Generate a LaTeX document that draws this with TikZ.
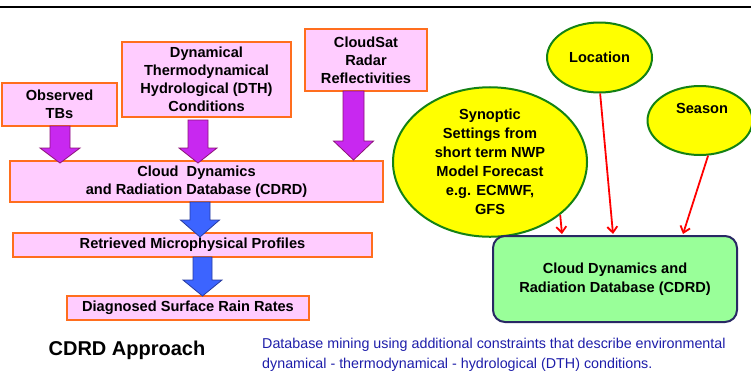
\documentclass[tikz,border=0pt]{standalone}
\usepackage{fontspec}
\setmainfont{Liberation Sans}
\usetikzlibrary{calc,shapes.geometric,arrows.meta}
\definecolor{pinkfill}{RGB}{255,204,255}
\definecolor{orangeline}{RGB}{255,110,30}
\definecolor{purplefill}{RGB}{200,40,240}
\definecolor{purpleline}{RGB}{140,20,120}
\definecolor{bluefill}{RGB}{60,100,255}
\definecolor{blueline}{RGB}{40,60,160}
\definecolor{ellfill}{RGB}{255,255,0}
\definecolor{ellline}{RGB}{20,130,20}
\definecolor{greenfill}{RGB}{153,255,153}
\definecolor{navyline}{RGB}{40,40,100}
\definecolor{txtblue}{RGB}{30,30,170}
\tikzset{
  pbox/.style={draw=orangeline, line width=1.8pt, fill=pinkfill, inner sep=0pt, font=\bfseries\fontsize{14.6}{18}\selectfont, align=center},
  ell/.style={ellipse, draw=ellline, line width=2pt, fill=ellfill, inner sep=0pt, font=\bfseries\fontsize{14.6}{19}\selectfont, align=center},
  purplearrow/.style={fill=purplefill, draw=purpleline, line width=0.8pt},
  bluearrow/.style={fill=bluefill, draw=blueline, line width=0.8pt},
  redarrow/.style={draw=red, line width=1.8pt, -{Straight Barb[length=6pt,width=10pt]}},
}
% block arrow: #1 style, #2 center x, #3 top y, #4 head start y, #5 tip y, #6 shaft half width, #7 head half width
\newcommand{\blockarr}[7]{%
  \draw[#1] (#2-#6,#3) -- (#2+#6,#3) -- (#2+#6,#4) -- (#2+#7,#4) -- (#2,#5) -- (#2-#7,#4) -- (#2-#6,#4) -- cycle;}
\begin{document}
\begin{tikzpicture}[x=1pt,y=-1pt]
\useasboundingbox (0,0) rectangle (751,373);
\fill[white] (0,0) rectangle (751,373);
\coordinate (tl) at (0,7);
\coordinate (tr) at (751,7);
\draw[line width=1.5pt] (tl) -- (tr);

% left boxes
\node[pbox, minimum width=115pt, minimum height=43pt] (tbs) at (59.5,104.5) {Observed\\TBs};
\node[pbox, minimum width=169pt, minimum height=75pt] (dth) at (206.5,79.5) {Dynamical\\Thermodynamical\\Hydrological (DTH)\\Conditions};
\node[pbox, minimum width=122pt, minimum height=62pt] (sat) at (366,60) {CloudSat\\Radar\\Reflectivities};
\node[pbox, minimum width=373pt, minimum height=41pt] (cdrd) at (196.5,181.5) {Cloud\ \ Dynamics\\and Radiation Database (CDRD)};
\node[pbox, minimum width=359pt, minimum height=24pt] (ret) at (192.5,245) {Retrieved Microphysical Profiles};
\node[pbox, minimum width=242pt, minimum height=24pt] (diag) at (188,308) {Diagnosed Surface Rain Rates};

% purple arrows
\blockarr{purplearrow}{60}{126}{148}{163}{10}{20}
\blockarr{purplearrow}{198}{120}{148}{163}{10}{19}
\blockarr{purplearrow}{353.5}{91}{141}{160}{10.5}{20}
% blue arrows
\blockarr{bluearrow}{200}{202}{220}{237}{10}{19.5}
\blockarr{bluearrow}{202.5}{257}{280}{296}{9.5}{19.5}

\node[font=\bfseries\fontsize{20}{24}\selectfont, anchor=center] (appr) at (127,350) {CDRD Approach};
\node[font=\fontsize{14.3}{20}\selectfont, text=txtblue, anchor=base west, align=left, inner sep=0pt] (mining) at (262,368) {Database mining using additional constraints that describe environmental\\dynamical - thermodynamical - hydrological (DTH) conditions.};

% right side
\node[ell, minimum width=105pt, minimum height=70pt] (loc) at (599.5,57.5) {Location};
\node[ell, minimum width=105pt, minimum height=69pt] (sea) at (700,120.5) {};
\node[font=\bfseries\fontsize{14.6}{18}\selectfont] (seat) at (702,108) {Season};
\node[ell, minimum width=194pt, minimum height=139pt] (syn) at (490,162) {Synoptic\\Settings from\\short term NWP\\Model Forecast\\e.g. ECMWF,\\GFS};
\node[draw=navyline, line width=2pt, fill=greenfill, rounded corners=12pt, minimum width=244pt, minimum height=86pt, font=\bfseries\fontsize{14.6}{19}\selectfont, align=center] (db) at (615,279) {Cloud Dynamics and\\Radiation Database (CDRD)};

\draw[redarrow] (syn.-37) -- ($(db.north west)+(70,-1)$);
\draw[redarrow] (loc.-89) -- ($(db.north west)+(121,-1)$);
\draw[redarrow] (sea.-77) -- ($(db.north west)+(191,-1)$);
\end{tikzpicture}
\end{document}
